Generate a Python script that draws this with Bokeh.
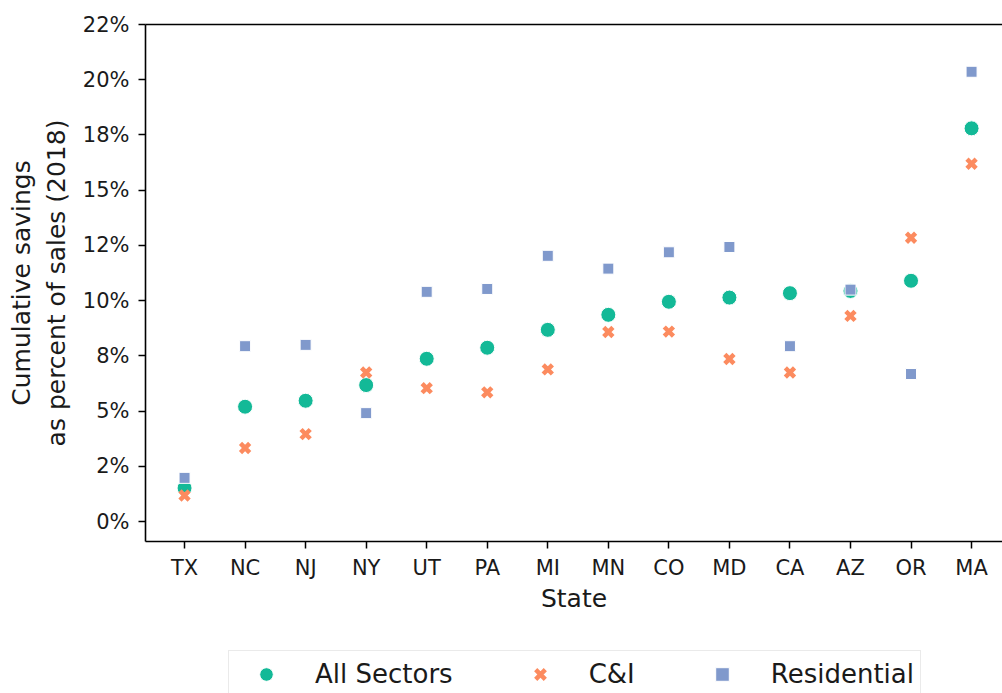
from bokeh.plotting import figure
from bokeh.layouts import column
from bokeh.models import Range1d, FixedTicker, LinearAxis, Legend, LegendItem, ColumnDataSource
from bokeh.embed import file_html
from bokeh.resources import INLINE

# ---- data ----
states = ["TX", "NC", "NJ", "NY", "UT", "PA", "MI", "MN", "CO", "MD", "CA", "AZ", "OR", "MA"]
all_sectors = [1.52, 5.20, 5.47, 6.18, 7.37, 7.87, 8.68, 9.36, 9.95, 10.14, 10.34, 10.44, 10.90, 17.80]
c_and_i = [1.18, 3.33, 3.96, 6.75, 6.04, 5.85, 6.89, 8.58, 8.60, 7.36, 6.75, 9.31, 12.85, 16.20]
residential = [1.98, 7.94, 8.00, 4.91, 10.40, 10.53, 12.03, 11.45, 12.19, 12.43, 7.94, 10.50, 6.68, 20.36]
ytick_values = [0, 2.5, 5, 7.5, 10, 12.5, 15, 17.5, 20, 22.5]
ytick_labels = ["0%", "2%", "5%", "8%", "10%", "12%", "15%", "18%", "20%", "22%"]
series_names = ["All Sectors", "C&I", "Residential"]
series_cols = ["alls", "ci", "res"]

xpos = list(range(len(states)))
src = ColumnDataSource(dict(x=xpos, state=states, alls=all_sectors, ci=c_and_i, res=residential))

FONT = "DejaVu Sans"
GREEN = "#13b997"
ORANGE = "#fc8b5f"
BLUE = "#8099cc"
STYLES = [dict(marker="circle", size=15, fill_color=GREEN, line_color="white", line_width=1),
          dict(marker="x", size=13, line_color=ORANGE, line_width=4.5),
          dict(marker="square", size=11, fill_color=BLUE, line_color="white", line_width=1)]

W = 1002
p = figure(width=W, height=640, output_backend="svg", toolbar_location=None,
           x_range=Range1d(-0.645, 13.511), y_range=Range1d(-0.9, 22.5),
           min_border_left=145, min_border_right=0, min_border_top=24, min_border_bottom=99)
p.outline_line_color = None
p.xgrid.visible = False
p.ygrid.visible = False

for col, st in zip(series_cols, STYLES):
    p.scatter("x", col, source=src, **st)

xa = p.xaxis[0]
xa.ticker = FixedTicker(ticks=xpos)
xa.major_label_overrides = {i: s for i, s in enumerate(states)}
xa.axis_label = "State"
ya = p.yaxis[0]
ya.ticker = FixedTicker(ticks=ytick_values)
ya.major_label_overrides = {v: l for v, l in zip(ytick_values, ytick_labels)}
ya.axis_label = "Cumulative savings\nas percent of sales (2018)"

for ax in (xa, ya):
    ax.axis_line_color = "black"
    ax.axis_line_width = 1.6
    ax.major_tick_line_color = "black"
    ax.major_tick_line_width = 1.5
    ax.major_tick_out = 7
    ax.major_tick_in = 0
    ax.minor_tick_line_color = None
    ax.major_label_text_font = FONT
    ax.major_label_text_font_size = "21px"
    ax.major_label_text_color = "#1a1a1a"
    ax.axis_label_text_font = FONT
    ax.axis_label_text_font_size = "25px"
    ax.axis_label_text_font_style = "normal"
    ax.axis_label_text_color = "#1a1a1a"
xa.major_label_standoff = 7
xa.axis_label_standoff = 1
ya.major_label_standoff = 9
ya.axis_label_standoff = 9

top = LinearAxis(ticker=FixedTicker(ticks=[]), axis_line_color="black", axis_line_width=1.6,
                 major_tick_line_color=None, minor_tick_line_color=None,
                 major_label_text_font_size="0px")
p.add_layout(top, "above")

# legend strip: a second figure (frames are aligned in the column) whose
# renderers use the same data but lie outside its ranges, so only the legend shows
LH = 53
p2 = figure(width=W, height=LH, output_backend="svg", toolbar_location=None,
            x_range=Range1d(0, 1), y_range=Range1d(-100, -99),
            min_border_left=0, min_border_right=0, min_border_top=0, min_border_bottom=0,
            x_axis_type=None, y_axis_type=None)
p2.outline_line_color = None
p2.xgrid.visible = False
p2.ygrid.visible = False
items = []
for name, col, st in zip(series_names, series_cols, STYLES):
    r = p2.scatter("x", col, source=src, **st)
    items.append(LegendItem(label=name, renderers=[r]))

legend = Legend(items=items, orientation="horizontal", location=(83, -5),
                label_text_font=FONT, label_text_font_size="26px", label_text_color="#1a1a1a",
                glyph_width=62, glyph_height=34, label_standoff=18, spacing=56, padding=6,
                margin=0, border_line_color="#d6d6d6", border_line_width=1.5,
                background_fill_color="white", background_fill_alpha=1)
p2.add_layout(legend, "center")

open("out.html", "w").write(file_html(column(p, p2, spacing=0), INLINE))
